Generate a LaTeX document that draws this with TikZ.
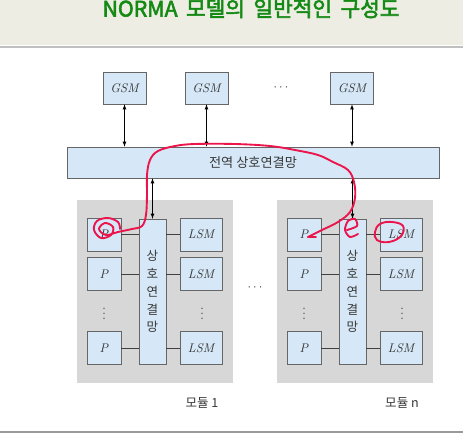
\documentclass[tikz,border=0pt]{standalone}
\usepackage{fontspec}
\newfontfamily\hangul{Noto Sans CJK KR}
\newfontfamily\hangulbold[AutoFakeBold=2.5]{Noto Sans CJK KR}
\usetikzlibrary{calc,positioning,arrows,shadows}
\definecolor{boxblue}{RGB}{214,232,247}
\definecolor{modgray}{RGB}{215,215,215}
\definecolor{titlebg}{RGB}{237,237,228}
\definecolor{titlegreen}{RGB}{20,138,20}
\definecolor{penred}{RGB}{235,20,75}
\definecolor{txtgray}{RGB}{55,55,55}
\newcommand{\tgap}{\hspace{0.4em}}

\begin{document}
\begin{tikzpicture}[x=0.028cm,y=-0.028cm,
  unit/.style={draw=black!60,fill=boxblue,inner sep=0pt,text=txtgray,
    general shadow={fill=black!60,shadow xshift=0.5pt,shadow yshift=-0.5pt}},
  gsmbox/.style={unit,minimum width=1.2cm,minimum height=0.9cm,font=\itshape},
  pbox/.style={unit,minimum width=0.95cm,minimum height=0.92cm,font=\itshape},
  lsmbox/.style={unit,minimum width=1.18cm,minimum height=0.92cm,font=\itshape},
  localbus/.style={unit,minimum width=0.76cm,minimum height=4.06cm,align=center,
    font=\hangul\fontsize{10}{14.2}\selectfont},
  globalbus/.style={unit,minimum width=10.42cm,minimum height=0.87cm,
    font=\hangul\fontsize{10.5}{12}\selectfont},
  module/.style={fill=modgray,minimum width=4.37cm,minimum height=5.12cm,inner sep=0pt},
  link/.style={draw=black!75,line width=0.5pt},
  dots/.style={text=txtgray,inner sep=0pt},
  pen/.style={draw=penred,line width=1.5pt,line cap=round,line join=round}]
\useasboundingbox (0,0) rectangle (463,433);
% title bar
\fill[titlebg] (0,0) rectangle (463,45);
\draw[black!25,line width=1.5pt] (0,47) -- (463,47);
\draw[black!40,line width=1pt] (0,432) -- (463,432);
\node[anchor=base,inner sep=0pt,text=titlegreen,font=\hangulbold\bfseries\fontsize{17}{18}\selectfont] (title) at (251,16.5) {NORMA\tgap 모델의\tgap 일반적인\tgap 구성도};
% global memories and global network
\node[gsmbox] (gsm1) at (124.5,88) {GSM};
\node[gsmbox] (gsm2) at (206.5,88) {GSM};
\node[dots] (gsmdots) at (281,88) {$\cdots$};
\node[gsmbox] (gsmn) at (352,88) {GSM};
\node[globalbus] (gbus) at (253,162.5) {전역 상호연결망};
\foreach \g in {gsm1,gsm2,gsmn}
  \draw[latex-latex] (\g.south) -- (\g.south |- gbus.north);
% modules
\foreach \m/\dx in {1/0,n/200} {
  \node[module] (mod\m) at (155+\dx,291.5) {};
  \node[localbus] (bus\m) at (152.5+\dx,291.5) {상\\호\\연\\결\\망};
  \foreach \r/\y in {a/234.5,b/274,c/348} {
    \node[pbox] (p\m\r) at (104+\dx,\y) {P};
    \node[lsmbox] (lsm\m\r) at (201+\dx,\y) {LSM};
    \draw[link] (p\m\r) -- (p\m\r -| bus\m.west);
    \draw[link] (lsm\m\r) -- (lsm\m\r -| bus\m.east);
  }
  \node[dots] (pdots\m) at (104+\dx,310) {$\vdots$};
  \node[dots] (lsmdots\m) at (202+\dx,310) {$\vdots$};
  \draw[latex-latex] (bus\m.north |- gbus.south) -- (bus\m.north);
  \node[text=txtgray,font=\hangul\fontsize{10}{12}\selectfont] (lab\m) at (202+\dx,403) {모듈 \m};
}
\node[dots] (moddots) at (255,288) {$\cdots$};
% red marks
\draw[pen] plot[smooth,tension=0.6] coordinates{(120,229)(118,222)(108,218)(97,221)(94,230)(101,238)(111,235)(113,227)(105,223)(99,229)(106,235)(118,232)(132,229)(142,226)(146,215)(147,195)(147,175)(150,160)(158,151)(175,146)(195,144)(235,144)(270,146)(295,150)(318,155)(333,162)(348,170)(354,182)(355,198)(350,212)(338,222)(322,230)(308,237)};
\draw[pen] (308,237) -- (316,237);
\draw[pen] plot[smooth] coordinates{(347,230)(357,226)(355,219)(348,221)(345,230)(350,237)(358,234)};
\draw[pen] plot[smooth cycle,tension=0.7] coordinates{(375,232)(380,224)(392,222)(403,226)(401,236)(389,242)(377,240)};
\end{tikzpicture}
\end{document}
